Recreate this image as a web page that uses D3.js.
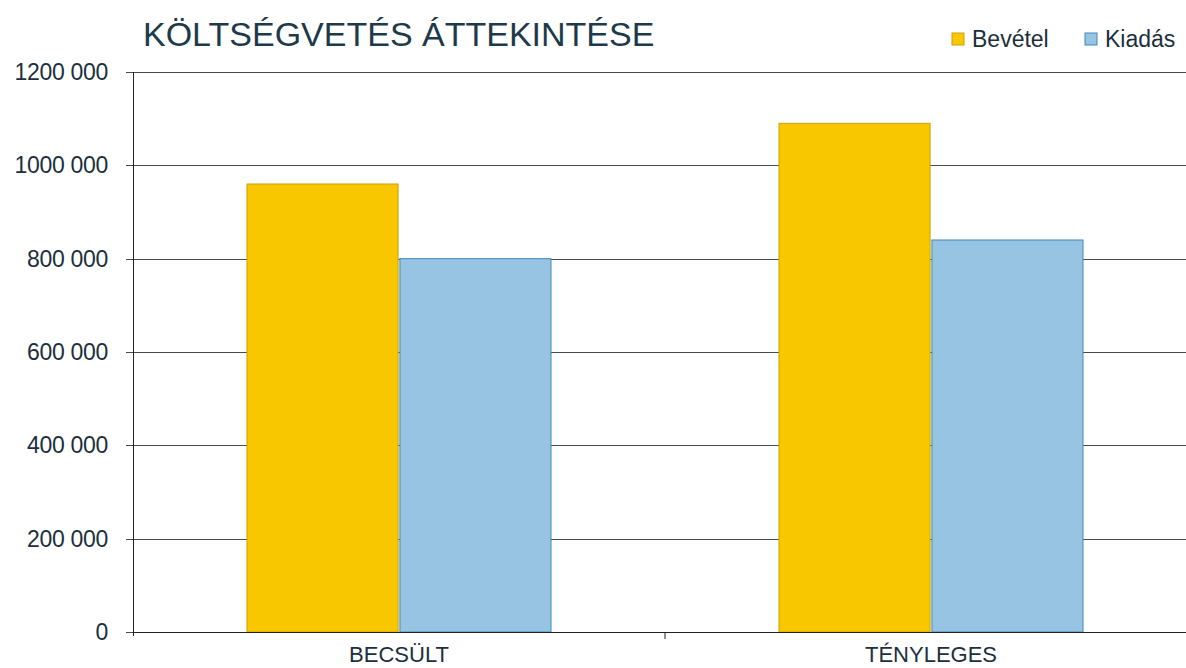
<!DOCTYPE html>
<html>
<head>
<meta charset="utf-8">
<script src="https://cdn.jsdelivr.net/npm/d3@7"></script>
<style>
  body { margin: 0; background: #fff; }
  text { font-family: "Liberation Sans", Arial, sans-serif; }
</style>
</head>
<body>
<div id="chart"></div>
<script>
let categories = ["BECSÜLT", "TÉNYLEGES"];
let seriesNames = ["Bevétel", "Kiadás"];
let bevetel = [960000, 1090000];
let kiadas = [800000, 840000];
let yTicks = [0, 200000, 400000, 600000, 800000, 1000000, 1200000];
let yTickLabels = ["0", "200 000", "400 000", "600 000", "800 000", "1000 000", "1200 000"];

let colors = { "Bevétel": "#f9c700", "Kiadás": "#96c4e2" };
let strokes = { "Bevétel": "#c9a200", "Kiadás": "#3f88b5" };

let svgWidth = 1186;
let svgHeight = 668;

let mar = { top: 72, bottom: 36, left: 133, right: -11 };
let wdt = svgWidth - mar.left - mar.right;
let hgt = svgHeight - mar.top - mar.bottom;

let svg = d3.select("#chart")
    .append("svg")
    .attr("width", svgWidth)
    .attr("height", svgHeight);

let chart = svg.append("g")
    .attr("transform", `translate(${mar.left}, ${mar.top})`);

let rows = categories.map((c, i) => ({ cat: c, "Bevétel": bevetel[i], "Kiadás": kiadas[i] }));

let x0 = d3.scaleBand()
    .domain(categories)
    .range([0, wdt])
    .paddingInner(0.4286)
    .paddingOuter(0.2143);

let x1 = d3.scaleBand()
    .domain(seriesNames)
    .range([0, x0.bandwidth()])
    .paddingInner(0.012);

let y = d3.scaleLinear()
    .domain([0, 1200000])
    .range([hgt, 0]);

// gridlines
chart.append("g")
    .selectAll("line")
    .data(yTicks)
    .enter()
    .append("line")
    .attr("x1", -7)
    .attr("x2", wdt)
    .attr("y1", d => Math.round(y(d)) + 0.5)
    .attr("y2", d => Math.round(y(d)) + 0.5)
    .attr("stroke", "#4a4a4a")
    .attr("stroke-width", 1);

// y labels
chart.append("g")
    .selectAll("text")
    .data(yTicks)
    .enter()
    .append("text")
    .attr("x", -25)
    .attr("y", d => y(d))
    .attr("dy", "0.35em")
    .attr("text-anchor", "end")
    .attr("font-size", 23)
    .attr("letter-spacing", -0.3)
    .attr("fill", "#1c2f3c")
    .text((d, i) => yTickLabels[i]);

// bars
let groups = chart.selectAll(".grp")
    .data(rows)
    .enter()
    .append("g")
    .attr("class", "grp")
    .attr("transform", d => `translate(${x0(d.cat)}, 0)`);

groups.selectAll("rect")
    .data(d => seriesNames.map(s => ({ key: s, value: d[s] })))
    .enter()
    .append("rect")
    .attr("x", d => x1(d.key))
    .attr("y", d => y(d.value))
    .attr("width", x1.bandwidth())
    .attr("height", d => hgt - y(d.value))
    .attr("fill", d => colors[d.key])
    .attr("stroke", d => strokes[d.key])
    .attr("stroke-width", 1);

// y axis line
chart.append("line")
    .attr("x1", 0.5).attr("x2", 0.5)
    .attr("y1", 0).attr("y2", hgt + 4)
    .attr("stroke", "#222");

// x axis line and category ticks
chart.append("line")
    .attr("x1", 0).attr("x2", wdt)
    .attr("y1", hgt + 0.5).attr("y2", hgt + 0.5)
    .attr("stroke", "#222");

chart.append("g")
    .selectAll("line")
    .data(categories.slice(1))
    .enter()
    .append("line")
    .attr("x1", d => x0(d) - x0.step() * x0.paddingInner() / 2)
    .attr("x2", d => x0(d) - x0.step() * x0.paddingInner() / 2)
    .attr("y1", hgt)
    .attr("y2", hgt + 7)
    .attr("stroke", "#222");

chart.append("g")
    .selectAll("text")
    .data(categories)
    .enter()
    .append("text")
    .attr("x", d => x0(d) + x0.bandwidth() / 2)
    .attr("y", hgt + 30)
    .attr("text-anchor", "middle")
    .attr("font-size", 22)
    .attr("fill", "#1c2f3c")
    .text(d => d);

// title
svg.append("text")
    .attr("x", 143)
    .attr("y", 46)
    .attr("font-size", 34)
    .attr("fill", "#1d3a4a")
    .text("KÖLTSÉGVETÉS ÁTTEKINTÉSE");

// legend
let legendX = [952, 1085];
let legend = svg.selectAll(".leg")
    .data(seriesNames)
    .enter()
    .append("g")
    .attr("class", "leg")
    .attr("transform", (d, i) => `translate(${legendX[i]}, 33)`);

legend.append("rect")
    .attr("width", 12)
    .attr("height", 12)
    .attr("fill", d => colors[d])
    .attr("stroke", d => strokes[d]);

legend.append("text")
    .attr("x", 20)
    .attr("y", 6)
    .attr("dy", "0.35em")
    .attr("font-size", 23)
    .attr("fill", "#1c2f3c")
    .text(d => d);
</script>
</body>
</html>
